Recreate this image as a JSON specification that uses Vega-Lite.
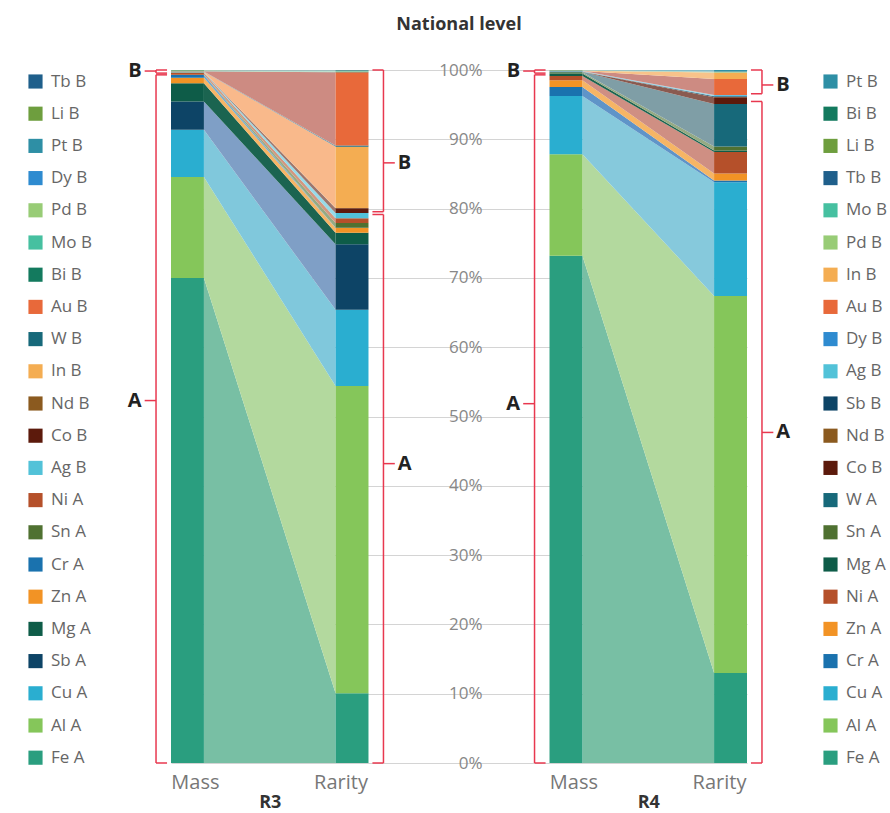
{
  "$schema": "https://vega.github.io/schema/vega-lite/v6.json",
  "width": 576,
  "height": 693,
  "autosize": {"type": "none"},
  "padding": {"left": 171, "top": 70, "right": 143, "bottom": 50},
  "background": "white",
  "title": {"text": "National level", "fontSize": 18, "fontWeight": "bold", "color": "#333333", "font": "Open Sans", "anchor": "middle", "frame": "group", "offset": 27},
  "config": {"view": {"stroke": null}, "font": "Open Sans"},
  "datasets": {
    "flows": [
      {"panel": "R3", "stage": "Mass", "metal": "Fe A", "value": 70.0},
      {"panel": "R3", "stage": "Mass", "metal": "Al A", "value": 14.6},
      {"panel": "R3", "stage": "Mass", "metal": "Cu A", "value": 6.8},
      {"panel": "R3", "stage": "Mass", "metal": "Sb A", "value": 4.1},
      {"panel": "R3", "stage": "Mass", "metal": "Mg A", "value": 2.6},
      {"panel": "R3", "stage": "Mass", "metal": "Zn A", "value": 0.8},
      {"panel": "R3", "stage": "Mass", "metal": "Cr A", "value": 0.4},
      {"panel": "R3", "stage": "Mass", "metal": "Sn A", "value": 0.05},
      {"panel": "R3", "stage": "Mass", "metal": "Ni A", "value": 0.3},
      {"panel": "R3", "stage": "Mass", "metal": "Ag B", "value": 0.05},
      {"panel": "R3", "stage": "Mass", "metal": "Co B", "value": 0.02},
      {"panel": "R3", "stage": "Mass", "metal": "Nd B", "value": 0.02},
      {"panel": "R3", "stage": "Mass", "metal": "In B", "value": 0.03},
      {"panel": "R3", "stage": "Mass", "metal": "W B", "value": 0.05},
      {"panel": "R3", "stage": "Mass", "metal": "Au B", "value": 0.02},
      {"panel": "R3", "stage": "Mass", "metal": "Bi B", "value": 0.02},
      {"panel": "R3", "stage": "Mass", "metal": "Mo B", "value": 0.05},
      {"panel": "R3", "stage": "Mass", "metal": "Pd B", "value": 0.01},
      {"panel": "R3", "stage": "Mass", "metal": "Dy B", "value": 0.03},
      {"panel": "R3", "stage": "Mass", "metal": "Pt B", "value": 0.02},
      {"panel": "R3", "stage": "Mass", "metal": "Li B", "value": 0.05},
      {"panel": "R3", "stage": "Mass", "metal": "Tb B", "value": 0.01},
      {"panel": "R3", "stage": "Rarity", "metal": "Fe A", "value": 10.05},
      {"panel": "R3", "stage": "Rarity", "metal": "Al A", "value": 44.35},
      {"panel": "R3", "stage": "Rarity", "metal": "Cu A", "value": 11.0},
      {"panel": "R3", "stage": "Rarity", "metal": "Sb A", "value": 9.45},
      {"panel": "R3", "stage": "Rarity", "metal": "Mg A", "value": 1.68},
      {"panel": "R3", "stage": "Rarity", "metal": "Zn A", "value": 0.67},
      {"panel": "R3", "stage": "Rarity", "metal": "Cr A", "value": 0.05},
      {"panel": "R3", "stage": "Rarity", "metal": "Sn A", "value": 0.68},
      {"panel": "R3", "stage": "Rarity", "metal": "Ni A", "value": 0.67},
      {"panel": "R3", "stage": "Rarity", "metal": "Ag B", "value": 0.77},
      {"panel": "R3", "stage": "Rarity", "metal": "Co B", "value": 0.67},
      {"panel": "R3", "stage": "Rarity", "metal": "Nd B", "value": 0.05},
      {"panel": "R3", "stage": "Rarity", "metal": "In B", "value": 8.85},
      {"panel": "R3", "stage": "Rarity", "metal": "W B", "value": 0.15},
      {"panel": "R3", "stage": "Rarity", "metal": "Au B", "value": 10.57},
      {"panel": "R3", "stage": "Rarity", "metal": "Bi B", "value": 0.05},
      {"panel": "R3", "stage": "Rarity", "metal": "Mo B", "value": 0.05},
      {"panel": "R3", "stage": "Rarity", "metal": "Pd B", "value": 0.05},
      {"panel": "R3", "stage": "Rarity", "metal": "Dy B", "value": 0.02},
      {"panel": "R3", "stage": "Rarity", "metal": "Pt B", "value": 0.1},
      {"panel": "R3", "stage": "Rarity", "metal": "Li B", "value": 0.02},
      {"panel": "R3", "stage": "Rarity", "metal": "Tb B", "value": 0.05},
      {"panel": "R4", "stage": "Mass", "metal": "Fe A", "value": 73.2},
      {"panel": "R4", "stage": "Mass", "metal": "Al A", "value": 14.65},
      {"panel": "R4", "stage": "Mass", "metal": "Cu A", "value": 8.4},
      {"panel": "R4", "stage": "Mass", "metal": "Cr A", "value": 1.3},
      {"panel": "R4", "stage": "Mass", "metal": "Zn A", "value": 0.97},
      {"panel": "R4", "stage": "Mass", "metal": "Ni A", "value": 0.62},
      {"panel": "R4", "stage": "Mass", "metal": "Mg A", "value": 0.35},
      {"panel": "R4", "stage": "Mass", "metal": "Sn A", "value": 0.2},
      {"panel": "R4", "stage": "Mass", "metal": "W A", "value": 0.07},
      {"panel": "R4", "stage": "Mass", "metal": "Co B", "value": 0.01},
      {"panel": "R4", "stage": "Mass", "metal": "Nd B", "value": 0.01},
      {"panel": "R4", "stage": "Mass", "metal": "Sb B", "value": 0.03},
      {"panel": "R4", "stage": "Mass", "metal": "Ag B", "value": 0.02},
      {"panel": "R4", "stage": "Mass", "metal": "Dy B", "value": 0.02},
      {"panel": "R4", "stage": "Mass", "metal": "Au B", "value": 0.03},
      {"panel": "R4", "stage": "Mass", "metal": "In B", "value": 0.03},
      {"panel": "R4", "stage": "Mass", "metal": "Pd B", "value": 0.01},
      {"panel": "R4", "stage": "Mass", "metal": "Mo B", "value": 0.01},
      {"panel": "R4", "stage": "Mass", "metal": "Tb B", "value": 0.01},
      {"panel": "R4", "stage": "Mass", "metal": "Li B", "value": 0.02},
      {"panel": "R4", "stage": "Mass", "metal": "Bi B", "value": 0.01},
      {"panel": "R4", "stage": "Mass", "metal": "Pt B", "value": 0.04},
      {"panel": "R4", "stage": "Rarity", "metal": "Fe A", "value": 13.0},
      {"panel": "R4", "stage": "Rarity", "metal": "Al A", "value": 54.4},
      {"panel": "R4", "stage": "Rarity", "metal": "Cu A", "value": 16.4},
      {"panel": "R4", "stage": "Rarity", "metal": "Cr A", "value": 0.25},
      {"panel": "R4", "stage": "Rarity", "metal": "Zn A", "value": 1.0},
      {"panel": "R4", "stage": "Rarity", "metal": "Ni A", "value": 3.1},
      {"panel": "R4", "stage": "Rarity", "metal": "Mg A", "value": 0.25},
      {"panel": "R4", "stage": "Rarity", "metal": "Sn A", "value": 0.55},
      {"panel": "R4", "stage": "Rarity", "metal": "W A", "value": 6.15},
      {"panel": "R4", "stage": "Rarity", "metal": "Co B", "value": 0.95},
      {"panel": "R4", "stage": "Rarity", "metal": "Nd B", "value": 0.05},
      {"panel": "R4", "stage": "Rarity", "metal": "Sb B", "value": 0.1},
      {"panel": "R4", "stage": "Rarity", "metal": "Ag B", "value": 0.15},
      {"panel": "R4", "stage": "Rarity", "metal": "Dy B", "value": 0.05},
      {"panel": "R4", "stage": "Rarity", "metal": "Au B", "value": 2.3},
      {"panel": "R4", "stage": "Rarity", "metal": "In B", "value": 0.95},
      {"panel": "R4", "stage": "Rarity", "metal": "Pd B", "value": 0.03},
      {"panel": "R4", "stage": "Rarity", "metal": "Mo B", "value": 0.03},
      {"panel": "R4", "stage": "Rarity", "metal": "Tb B", "value": 0.03},
      {"panel": "R4", "stage": "Rarity", "metal": "Li B", "value": 0.03},
      {"panel": "R4", "stage": "Rarity", "metal": "Bi B", "value": 0.03},
      {"panel": "R4", "stage": "Rarity", "metal": "Pt B", "value": 0.2}
    ],
    "brackets": [
      {"panel": "R3", "side": "left", "label": "A", "y0": 0.0, "y1": 0.993, "ym": 0.523},
      {"panel": "R3", "side": "left", "label": "B", "y0": 0.9955, "y1": 1.0, "ym": 0.9985},
      {"panel": "R3", "side": "right", "label": "A", "y0": 0.0, "y1": 0.7915, "ym": 0.432},
      {"panel": "R3", "side": "right", "label": "B", "y0": 0.7955, "y1": 1.0, "ym": 0.866},
      {"panel": "R4", "side": "left", "label": "A", "y0": 0.0, "y1": 0.993, "ym": 0.5185},
      {"panel": "R4", "side": "left", "label": "B", "y0": 0.9955, "y1": 1.0, "ym": 0.9985},
      {"panel": "R4", "side": "right", "label": "A", "y0": 0.0, "y1": 0.9546, "ym": 0.477},
      {"panel": "R4", "side": "right", "label": "B", "y0": 0.9657, "y1": 1.0, "ym": 0.9784}
    ]
  },
  "layer": [
    {
      "data": {"name": "flows"},
      "transform": [
        {"filter": "datum.panel == 'R3'"},
        {"calculate": "indexof(['Tb B','Li B','Pt B','Dy B','Pd B','Mo B','Bi B','Au B','W B','In B','Nd B','Co B','Ag B','Ni A','Sn A','Cr A','Zn A','Mg A','Sb A','Cu A','Al A','Fe A'], datum.metal)", "as": "ord"},
        {"stack": "value", "groupby": ["stage"], "sort": [{"field": "ord", "order": "descending"}], "offset": "normalize", "as": ["y0", "y1"]},
        {"calculate": "datum.stage == 'Mass' ? 0.1 : 0.9", "as": "xa"}
      ],
      "mark": {"type": "area", "opacity": 1},
      "encoding": {
        "x": {"field": "xa", "type": "quantitative", "axis": null, "scale": {"domain": [-0.1, 3.4], "zero": false, "nice": false}},
        "y": {"field": "y0", "type": "quantitative", "axis": null, "stack": null, "scale": {"domain": [0, 1], "zero": false, "nice": false}},
        "y2": {"field": "y1"},
        "color": {"field": "metal", "type": "nominal", "legend": null,
          "scale": {"domain": ["Tb B","Li B","Pt B","Dy B","Pd B","Mo B","Bi B","Au B","W B","In B","Nd B","Co B","Ag B","Ni A","Sn A","Cr A","Zn A","Mg A","Sb A","Cu A","Al A","Fe A"],
                    "range": ["#79a0bd","#a8c68b","#82bcc9","#82b9e3","#c1e0ad","#90d9c6","#71af9e","#cd8b82","#7f9ea6","#f9b98b","#b99c79","#9d766d","#97dae8","#d3977f","#95aa83","#76aace","#f6b565","#1b6450","#7f9fc6","#80c8dc","#b3d99e","#78bfa4"]}}
      }
    },
    {
      "data": {"name": "flows"},
      "transform": [
        {"filter": "datum.panel == 'R3'"},
        {"calculate": "indexof(['Tb B','Li B','Pt B','Dy B','Pd B','Mo B','Bi B','Au B','W B','In B','Nd B','Co B','Ag B','Ni A','Sn A','Cr A','Zn A','Mg A','Sb A','Cu A','Al A','Fe A'], datum.metal)", "as": "ord"},
        {"stack": "value", "groupby": ["stage"], "sort": [{"field": "ord", "order": "descending"}], "offset": "normalize", "as": ["y0", "y1"]},
        {"calculate": "datum.stage == 'Mass' ? -0.1 : 0.9", "as": "xl"},
        {"calculate": "datum.xl + 0.2", "as": "xr"}
      ],
      "mark": {"type": "rect"},
      "encoding": {
        "x": {"field": "xl", "type": "quantitative", "scale": {"domain": [-0.1, 3.4], "zero": false, "nice": false},
          "axis": {"orient": "bottom", "values": [0.045, 0.93, 2.345, 3.23], "labelExpr": "(datum.value < 0.5 || (datum.value > 2 && datum.value < 2.8)) ? 'Mass' : 'Rarity'", "grid": false, "ticks": false, "domain": false, "labelFontSize": 20, "labelColor": "#777777", "labelPadding": 9, "title": null, "labelFlush": false, "labelOverlap": false, "labelFont": "Open Sans"}},
        "x2": {"field": "xr"},
        "y": {"field": "y0", "type": "quantitative", "stack": null, "scale": {"domain": [0, 1], "zero": false, "nice": false},
          "axis": {"orient": "left", "offset": -313, "grid": true, "domain": false, "ticks": false, "labelPadding": 2, "format": ".0%", "values": [0, 0.1, 0.2, 0.3, 0.4, 0.5, 0.6, 0.7, 0.8, 0.9, 1], "labelFontSize": 17, "labelColor": "#888888", "gridColor": "#d4d4d4", "labelFont": "Open Sans", "title": null, "zindex": 0}},
        "y2": {"field": "y1"},
        "color": {"field": "metal", "type": "nominal",
          "scale": {"domain": ["Tb B","Li B","Pt B","Dy B","Pd B","Mo B","Bi B","Au B","W B","In B","Nd B","Co B","Ag B","Ni A","Sn A","Cr A","Zn A","Mg A","Sb A","Cu A","Al A","Fe A"],
                    "range": ["#1f5f8b","#6e9e3e","#2e8fa5","#2e8bd0","#98cc76","#46c0a0","#137a5e","#e8693a","#17697a","#f4ad52","#8b5a1f","#5c1a0c","#52c2d8","#b5502a","#4f7131","#1a72ae","#f29325","#0e5c48","#0d4466","#2aaed0","#85c65a","#2a9e7f"]},
          "legend": {"orient": "none", "legendX": -144, "legendY": 3, "title": null, "symbolType": "square", "symbolSize": 200, "symbolStrokeWidth": 0, "symbolOpacity": 1, "labelFontSize": 17, "labelColor": "#666666", "labelFont": "Open Sans", "rowPadding": 14.2, "padding": 0, "labelOffset": 7}}
      }
    },
    {
      "data": {"name": "flows"},
      "transform": [
        {"filter": "datum.panel == 'R4'"},
        {"calculate": "indexof(['Pt B','Bi B','Li B','Tb B','Mo B','Pd B','In B','Au B','Dy B','Ag B','Sb B','Nd B','Co B','W A','Sn A','Mg A','Ni A','Zn A','Cr A','Cu A','Al A','Fe A'], datum.metal)", "as": "ord"},
        {"stack": "value", "groupby": ["stage"], "sort": [{"field": "ord", "order": "descending"}], "offset": "normalize", "as": ["y0", "y1"]},
        {"calculate": "datum.stage == 'Mass' ? 2.4 : 3.2", "as": "xa"}
      ],
      "mark": {"type": "area", "opacity": 1},
      "encoding": {
        "x": {"field": "xa", "type": "quantitative", "axis": null, "scale": {"domain": [-0.1, 3.4], "zero": false, "nice": false}},
        "y": {"field": "y0", "type": "quantitative", "axis": null, "stack": null, "scale": {"domain": [0, 1], "zero": false, "nice": false}},
        "y2": {"field": "y1"},
        "color": {"field": "metal", "type": "nominal", "legend": null,
          "scale": {"domain": ["Pt B","Bi B","Li B","Tb B","Mo B","Pd B","In B","Au B","Dy B","Ag B","Sb B","Nd B","Co B","W A","Sn A","Mg A","Ni A","Zn A","Cr A","Cu A","Al A","Fe A"],
                    "range": ["#82bcc9","#71af9e","#a8c68b","#79a0bd","#90d9c6","#c1e0ad","#f8c38a","#cd8b82","#82b9e3","#97dae8","#0d4466","#b99c79","#8a5a50","#7f9ea6","#95aa83","#1b6450","#cf8f83","#f6b565","#5f94c8","#86c9dc","#b3d99e","#78bfa4"]}}
      }
    },
    {
      "data": {"name": "flows"},
      "transform": [
        {"filter": "datum.panel == 'R4'"},
        {"calculate": "indexof(['Pt B','Bi B','Li B','Tb B','Mo B','Pd B','In B','Au B','Dy B','Ag B','Sb B','Nd B','Co B','W A','Sn A','Mg A','Ni A','Zn A','Cr A','Cu A','Al A','Fe A'], datum.metal)", "as": "ord"},
        {"stack": "value", "groupby": ["stage"], "sort": [{"field": "ord", "order": "descending"}], "offset": "normalize", "as": ["y0", "y1"]},
        {"calculate": "datum.stage == 'Mass' ? 2.2 : 3.2", "as": "xl"},
        {"calculate": "datum.xl + 0.2", "as": "xr"}
      ],
      "mark": {"type": "rect"},
      "encoding": {
        "x": {"field": "xl", "type": "quantitative", "scale": {"domain": [-0.1, 3.4], "zero": false, "nice": false},
          "axis": {"orient": "bottom", "values": [0.5, 2.8], "labelExpr": "datum.value < 1.5 ? 'R3' : 'R4'", "grid": false, "ticks": false, "domain": false, "labelFontSize": 18, "labelFontWeight": "bold", "labelColor": "#333333", "labelPadding": 30, "title": null, "labelFlush": false, "labelOverlap": false, "labelFont": "Open Sans"}},
        "x2": {"field": "xr"},
        "y": {"field": "y0", "type": "quantitative", "stack": null, "axis": null, "scale": {"domain": [0, 1], "zero": false, "nice": false}},
        "y2": {"field": "y1"},
        "color": {"field": "metal", "type": "nominal",
          "scale": {"domain": ["Pt B","Bi B","Li B","Tb B","Mo B","Pd B","In B","Au B","Dy B","Ag B","Sb B","Nd B","Co B","W A","Sn A","Mg A","Ni A","Zn A","Cr A","Cu A","Al A","Fe A"],
                    "range": ["#2e8fa5","#137a5e","#6e9e3e","#1f5f8b","#46c0a0","#98cc76","#f4ad52","#e8693a","#2e8bd0","#52c2d8","#0d4466","#8b5a1f","#5c1a0c","#17697a","#4f7131","#0e5c48","#b5502a","#f29325","#1a72ae","#2aaed0","#85c65a","#2a9e7f"]},
          "legend": {"orient": "none", "legendX": 651, "legendY": 3, "title": null, "symbolType": "square", "symbolSize": 200, "symbolStrokeWidth": 0, "symbolOpacity": 1, "labelFontSize": 17, "labelColor": "#666666", "labelFont": "Open Sans", "rowPadding": 14.2, "padding": 0, "labelOffset": 7}}
      }
    },
    {
      "data": {"name": "brackets"},
      "transform": [
        {"calculate": "(datum.panel == 'R3' ? 0 : 2.3) + (datum.side == 'left' ? -0.1 : 1.1)", "as": "xe"},
        {"calculate": "datum.side == 'left' ? -1 : 1", "as": "sg"},
        {"calculate": "datum.xe + datum.sg * 0.091", "as": "xv"}
      ],
      "mark": {"type": "rule", "color": "#e8384f", "strokeWidth": 1.5},
      "encoding": {
        "x": {"field": "xv", "type": "quantitative", "axis": null, "scale": {"domain": [-0.1, 3.4], "zero": false, "nice": false}},
        "y": {"field": "y0", "type": "quantitative", "axis": null, "scale": {"domain": [0, 1], "zero": false, "nice": false}},
        "y2": {"field": "y1"}
      }
    },
    {
      "data": {"name": "brackets"},
      "transform": [
        {"calculate": "(datum.panel == 'R3' ? 0 : 2.3) + (datum.side == 'left' ? -0.1 : 1.1)", "as": "xe"},
        {"calculate": "datum.side == 'left' ? -1 : 1", "as": "sg"},
        {"calculate": "datum.xe + datum.sg * 0.091", "as": "xv"},
        {"calculate": "datum.xe + datum.sg * 0.024", "as": "xs"}
      ],
      "mark": {"type": "rule", "color": "#e8384f", "strokeWidth": 1.5},
      "encoding": {
        "x": {"field": "xs", "type": "quantitative", "axis": null, "scale": {"domain": [-0.1, 3.4], "zero": false, "nice": false}},
        "x2": {"field": "xv"},
        "y": {"field": "y0", "type": "quantitative", "axis": null, "scale": {"domain": [0, 1], "zero": false, "nice": false}}
      }
    },
    {
      "data": {"name": "brackets"},
      "transform": [
        {"calculate": "(datum.panel == 'R3' ? 0 : 2.3) + (datum.side == 'left' ? -0.1 : 1.1)", "as": "xe"},
        {"calculate": "datum.side == 'left' ? -1 : 1", "as": "sg"},
        {"calculate": "datum.xe + datum.sg * 0.091", "as": "xv"},
        {"calculate": "datum.xe + datum.sg * 0.024", "as": "xs"}
      ],
      "mark": {"type": "rule", "color": "#e8384f", "strokeWidth": 1.5},
      "encoding": {
        "x": {"field": "xs", "type": "quantitative", "axis": null, "scale": {"domain": [-0.1, 3.4], "zero": false, "nice": false}},
        "x2": {"field": "xv"},
        "y": {"field": "y1", "type": "quantitative", "axis": null, "scale": {"domain": [0, 1], "zero": false, "nice": false}}
      }
    },
    {
      "data": {"name": "brackets"},
      "transform": [
        {"calculate": "(datum.panel == 'R3' ? 0 : 2.3) + (datum.side == 'left' ? -0.1 : 1.1)", "as": "xe"},
        {"calculate": "datum.side == 'left' ? -1 : 1", "as": "sg"},
        {"calculate": "datum.xe + datum.sg * 0.091", "as": "xv"},
        {"calculate": "datum.xe + datum.sg * 0.16", "as": "xt"}
      ],
      "mark": {"type": "rule", "color": "#e8384f", "strokeWidth": 1.5},
      "encoding": {
        "x": {"field": "xv", "type": "quantitative", "axis": null, "scale": {"domain": [-0.1, 3.4], "zero": false, "nice": false}},
        "x2": {"field": "xt"},
        "y": {"field": "ym", "type": "quantitative", "axis": null, "scale": {"domain": [0, 1], "zero": false, "nice": false}}
      }
    },
    {
      "data": {"name": "brackets"},
      "transform": [
        {"filter": "datum.side == 'left'"},
        {"calculate": "(datum.panel == 'R3' ? 0 : 2.3) - 0.1 - 0.16", "as": "xt"}
      ],
      "mark": {"type": "text", "align": "right", "baseline": "middle", "dx": -3, "fontSize": 20, "fontWeight": "bold", "color": "#222222", "font": "Open Sans"},
      "encoding": {
        "x": {"field": "xt", "type": "quantitative", "axis": null, "scale": {"domain": [-0.1, 3.4], "zero": false, "nice": false}},
        "y": {"field": "ym", "type": "quantitative", "axis": null, "scale": {"domain": [0, 1], "zero": false, "nice": false}},
        "text": {"field": "label"}
      }
    },
    {
      "data": {"name": "brackets"},
      "transform": [
        {"filter": "datum.side == 'right'"},
        {"calculate": "(datum.panel == 'R3' ? 0 : 2.3) + 1.1 + 0.16", "as": "xt"}
      ],
      "mark": {"type": "text", "align": "left", "baseline": "middle", "dx": 3, "fontSize": 20, "fontWeight": "bold", "color": "#222222", "font": "Open Sans"},
      "encoding": {
        "x": {"field": "xt", "type": "quantitative", "axis": null, "scale": {"domain": [-0.1, 3.4], "zero": false, "nice": false}},
        "y": {"field": "ym", "type": "quantitative", "axis": null, "scale": {"domain": [0, 1], "zero": false, "nice": false}},
        "text": {"field": "label"}
      }
    }
  ],
  "resolve": {"scale": {"color": "independent"}, "axis": {"x": "independent", "y": "independent"}, "legend": {"color": "independent"}}
}
